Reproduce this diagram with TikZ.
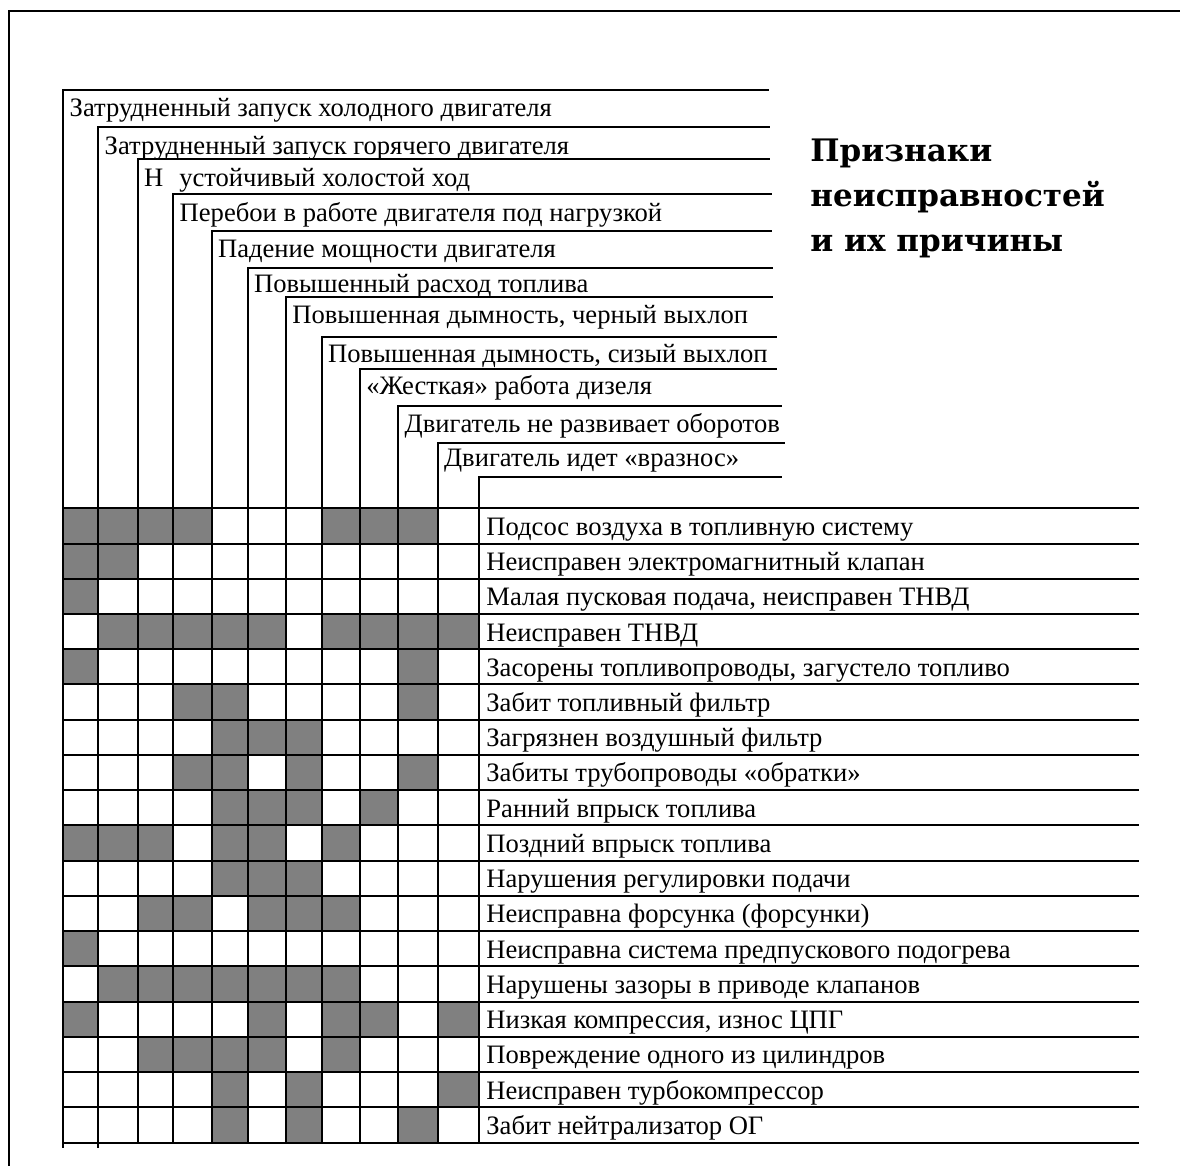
\documentclass[tikz,border=0pt]{standalone}
\usepackage{fontspec}
\setmainfont{Liberation Serif}
\newfontfamily\titlefamily{DejaVu Serif}
\usetikzlibrary{calc}
\definecolor{ink}{HTML}{000000}
\definecolor{cellfill}{HTML}{808080}
\tikzset{
  font=\fontsize{13.3}{16}\selectfont,
  %
  rulegrid/.style={draw=ink, line width=1pt},
  frameline/.style={draw=ink, line width=1pt},
  cellon/.style={fill=cellfill, draw=none},
  %
  symptom/.style={anchor=base west, inner sep=0pt, text=ink},
  cause/.style={anchor=base west, inner sep=0pt, text=ink},
  heading/.style={anchor=north west, inner sep=0pt, align=left, text=ink,
                  font=\titlefamily\bfseries\fontsize{15.5}{22.5}\selectfont},
}

\begin{document}
\begin{tikzpicture}[x=0.5pt, y=-0.5pt]
  \useasboundingbox (0,0) rectangle (1180,1166);

  % --- page frame --------------------------------------------------------
  \draw[frameline] (9,1166) -- (9,11) -- (1180,11);

  % --- shaded cells: which symptom goes with which cause ----------------
  \def\colx{{63.3,98.3,137.7,173.3,211.7,247.7,286,321.7,360,398.3,437.7,479}}
  \foreach \r/\cols in {1/{1,2,3,4,8,9,10}, 2/{1,2}, 3/{1},
      4/{2,3,4,5,6,8,9,10,11}, 5/{1,10}, 6/{4,5,10}, 7/{5,6,7},
      8/{4,5,7,10}, 9/{5,6,7,9}, 10/{1,2,3,5,6,8}, 11/{5,6,7},
      12/{3,4,6,7,8}, 13/{1}, 14/{2,3,4,5,6,7,8}, 15/{1,6,8,9,11},
      16/{3,4,5,6,8}, 17/{5,7,11}, 18/{5,7,10}} {
    \foreach \c in \cols {
      \pgfmathsetmacro{\xl}{\colx[\c-1]}
      \pgfmathsetmacro{\xr}{\colx[\c]}
      \fill[cellon] (\xl,{508.3+35.24*(\r-1)}) rectangle (\xr,{508.3+35.24*\r});
    }
  }

  % --- symptoms: the staircase of headers --------------------------------
  \foreach \x/\top/\base/\xend/\txt [count=\i] in {
      63.3/90/117/769/{Затрудненный запуск холодного двигателя},
      98.3/127/155/770/{Затрудненный запуск горячего двигателя},
      137.7/159/187/770/{Н\hspace{0.6em}устойчивый холостой ход},
      173.3/194/222/772/{Перебои в работе двигателя под нагрузкой},
      211.7/231/258/772/{Падение мощности двигателя},
      247.7/268/293/773/{Повышенный расход топлива},
      286/297/324/773/{Повышенная дымность, черный выхлоп},
      321.7/337/363/777/{Повышенная дымность, сизый выхлоп},
      360/369/395/777/{«Жесткая» работа дизеля},
      398.3/406/433/782/{Двигатель не развивает оборотов},
      437.7/443/467/785/{Двигатель идет «вразнос»}} {
    \draw[rulegrid] (\x,1142.7) -- (\x,\top) -- (\xend,\top);
    \node[symptom] (h\i) at ({\x+6},\base) {\txt};
  }
  \draw[rulegrid] (479,1142.7) -- (479,477.3) -- (782,477.3);
  \foreach \x in {63.3,98.3} { \draw[rulegrid] (\x,1140) -- (\x,1148); }

  % --- causes: one row each ----------------------------------------------
  \foreach \k in {0,...,18} {
    \draw[rulegrid] (63.3,{508.3+35.24*\k}) -- (1139,{508.3+35.24*\k});
  }
  \foreach \txt [count=\i] in {
      Подсос воздуха в топливную систему,
      Неисправен электромагнитный клапан,
      {Малая пусковая подача, неисправен ТНВД},
      Неисправен ТНВД,
      {Засорены топливопроводы, загустело топливо},
      Забит топливный фильтр,
      Загрязнен воздушный фильтр,
      Забиты трубопроводы «обратки»,
      Ранний впрыск топлива,
      Поздний впрыск топлива,
      Нарушения регулировки подачи,
      Неисправна форсунка (форсунки),
      Неисправна система предпускового подогрева,
      Нарушены зазоры в приводе клапанов,
      {Низкая компрессия, износ ЦПГ},
      Повреждение одного из цилиндров,
      Неисправен турбокомпрессор,
      Забит нейтрализатор ОГ} {
    \node[cause] (c\i) at (486,{508.3+35.24*(\i-1)+27}) {\txt};
  }

  % --- title ---------------------------------------------------------------
  \node[heading] (title) at (810,139)
    {Признаки\\неисправностей\\и их причины};

\end{tikzpicture}
\end{document}
